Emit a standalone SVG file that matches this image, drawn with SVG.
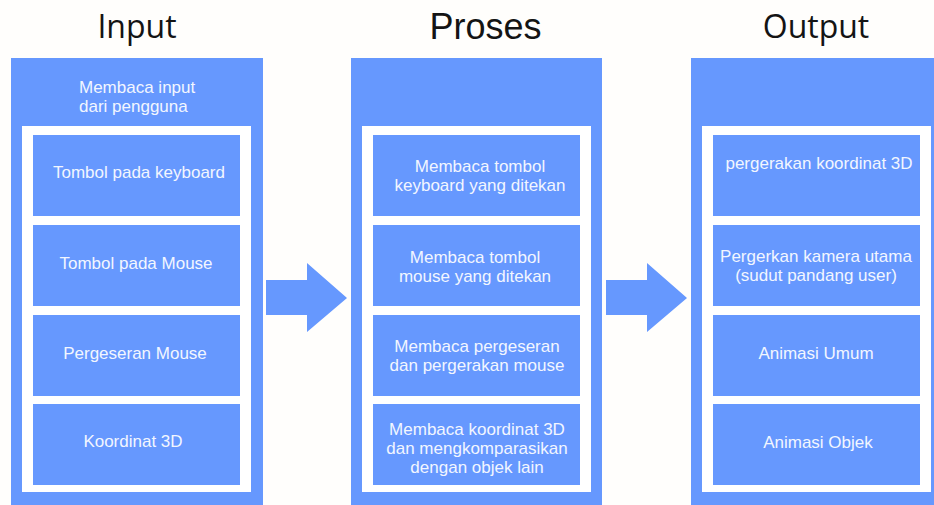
<svg xmlns="http://www.w3.org/2000/svg" width="934" height="505" viewBox="0 0 934 505">
<style>
.col{fill:#6698fe}
.frame{fill:#ffffff}
.box{fill:#6698fe}
.t{font-family:"Liberation Sans",Arial,sans-serif;font-size:17px;fill:#f2f6ff;text-anchor:middle}
.title{font-size:32px;fill:#141414;text-anchor:middle}
.arrow{fill:#6698fe}
</style>
<rect width="934" height="505" fill="#fffefc"/>
<g id="titles">
<text class="title" x="137" y="38" font-family="'Open Sans',sans-serif">Input</text>
<text class="title" x="485.5" y="39" font-family="'Liberation Sans',Arial,sans-serif" style="font-size:36px">Proses</text>
<text class="title" x="816" y="38" font-family="'Open Sans',sans-serif">Output</text>
</g>
<g id="input">
<rect class="col" x="11" y="58" width="252" height="447"/>
<text class="t" x="79" y="93" style="text-anchor:start">Membaca input</text>
<text class="t" x="79" y="112" style="text-anchor:start">dari pengguna</text>
<rect class="frame" x="22" y="126" width="229" height="366"/>
<g id="in1"><rect class="box" x="33" y="135" width="207" height="81"/><text class="t" x="139" y="178">Tombol pada keyboard</text></g>
<g id="in2"><rect class="box" x="33" y="225" width="207" height="81"/><text class="t" x="136" y="269">Tombol pada Mouse</text></g>
<g id="in3"><rect class="box" x="33" y="315" width="207" height="81"/><text class="t" x="135" y="359">Pergeseran Mouse</text></g>
<g id="in4"><rect class="box" x="33" y="404" width="207" height="81"/><text class="t" x="133" y="447">Koordinat 3D</text></g>
</g>
<g id="proses">
<rect class="col" x="351" y="58" width="251" height="447"/>
<rect class="frame" x="362" y="126" width="229" height="366"/>
<g id="pr1"><rect class="box" x="373" y="135" width="207" height="81"/><text class="t" x="480" y="172">Membaca tombol</text><text class="t" x="480" y="191">keyboard yang ditekan</text></g>
<g id="pr2"><rect class="box" x="373" y="225" width="207" height="81"/><text class="t" x="475" y="263">Membaca tombol</text><text class="t" x="475" y="282">mouse yang ditekan</text></g>
<g id="pr3"><rect class="box" x="373" y="315" width="207" height="81"/><text class="t" x="477" y="352">Membaca pergeseran</text><text class="t" x="477" y="371">dan pergerakan mouse</text></g>
<g id="pr4"><rect class="box" x="373" y="404" width="207" height="81"/><text class="t" x="477" y="435">Membaca koordinat 3D</text><text class="t" x="477" y="454">dan mengkomparasikan</text><text class="t" x="477" y="473">dengan objek lain</text></g>
</g>
<g id="output">
<rect class="col" x="691" y="58" width="243" height="447"/>
<rect class="frame" x="702" y="126" width="229" height="366"/>
<g id="out1"><rect class="box" x="713" y="135" width="207" height="81"/><text class="t" x="819" y="169">pergerakan koordinat 3D</text></g>
<g id="out2"><rect class="box" x="713" y="225" width="207" height="81"/><text class="t" x="816" y="262">Pergerkan kamera utama</text><text class="t" x="816" y="281">(sudut pandang user)</text></g>
<g id="out3"><rect class="box" x="713" y="315" width="207" height="81"/><text class="t" x="816" y="359">Animasi Umum</text></g>
<g id="out4"><rect class="box" x="713" y="404" width="207" height="81"/><text class="t" x="818" y="448">Animasi Objek</text></g>
</g>
<g id="connectors">
<polygon class="arrow" points="266,280 307,280 307,263 347,298 307,332 307,315 266,315"/>
<polygon class="arrow" points="606,280 647,280 647,263 687,298 647,332 647,315 606,315"/>
</g>
</svg>
